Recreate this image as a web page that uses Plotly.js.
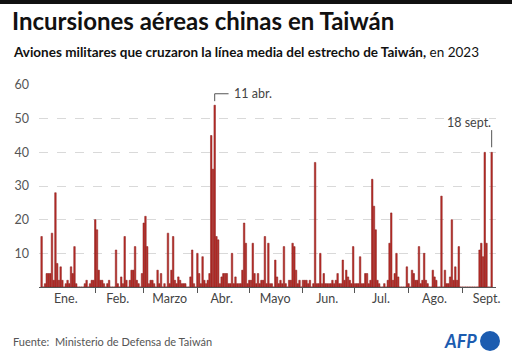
<!DOCTYPE html>
<html>
<head>
<meta charset="utf-8">
<script src="https://cdn.plot.ly/plotly-3.0.1.min.js"></script>
<style>html,body{margin:0;padding:0;background:#fff;}#chart{width:512px;height:355px;}</style>
</head>
<body>
<div id="chart"></div>
<script>
// Daily counts, 1 Jan 2023 .. 18 Sept 2023
const startDate = '2023-01-01';
const dailyCounts = [
 15,0,1,4,4,4,16,2,28,7, 2,6,2,0,1,2,1,6,4,12,
 1,0,0,0,0,1,2,0,1,2, 2,20,17,5,2,2,1,0,1,2,
 0,0,0,11,1,0,3,1,15,2, 0,2,5,5,12,2,1,0,4,19,
 21,12,1,2,2,1,0,5,1,4, 0,1,0,16,1,5,15,2,1,3,
 2,1,1,1,0,0,3,11,1,0, 10,4,1,9,2,1,2,4,45,35,
 54,15,14,1,3,4,4,4,1,1, 10,1,3,1,1,1,5,19,13,1,
 2,2,13,4,1,4,1,2,2,15, 1,13,1,1,0,8,3,1,2,1,
 12,1,0,2,2,13,12,5,1,2, 0,2,2,2,1,2,0,1,37,1,
 1,10,1,4,1,1,1,1,2,1, 2,4,1,1,8,2,5,3,2,1,
 12,1,1,1,9,1,1,4,4,1, 2,32,24,17,2,1,0,0,1,0,
 2,13,22,2,4,10,3,0,0,0, 0,6,1,0,5,4,2,2,12,1,
 2,10,2,1,0,0,5,3,2,0, 0,27,0,5,1,1,3,20,2,6,
 2,12,0,0,0,0,0,0,0,0, 0,0,0,11,13,9,40,13,0,0,
 40
];
const monthLabels = ['Ene.','Feb.','Marzo','Abr.','Mayo','Jun.','Jul.','Ago.','Sept.'];
const monthMids = ['2023-01-15','2023-02-14','2023-03-16','2023-04-15','2023-05-16','2023-06-15','2023-07-16','2023-08-16','2023-09-15'];
const monthStarts = ['2023-02-01','2023-03-01','2023-04-01','2023-05-01','2023-06-01','2023-07-01','2023-08-01','2023-09-01'];
const yTicks = [10,20,30,40,50,60];
const peakLabel = {date:'2023-04-11', text:'11 abr.'};
const lastLabel = {date:'2023-09-18', text:'18 sept.'};

const dates = dailyCounts.map((_, i) => {
  const d = new Date(startDate + 'T00:00:00Z');
  d.setUTCDate(d.getUTCDate() + i);
  return d.toISOString().slice(0,10);
});

const peakVal = dailyCounts[dates.indexOf(peakLabel.date)];
const lastVal = dailyCounts[dates.indexOf(lastLabel.date)];

const plotL = 39, plotR = 16, plotT = 85, plotB = 68;
const W = 512, H = 355;
const pw = W - plotL - plotR, ph = H - plotT - plotB;
const px = x => (x - plotL) / pw;
const py = y => (H - plotB - y) / ph;

const FONT = 'Lato, "Noto Sans", sans-serif';

const trace = {
  type: 'bar',
  x: dates,
  y: dailyCounts,
  marker: {color: '#bb2f2a', line: {color: '#861b19', width: 0.5}},
  hoverinfo: 'x+y'
};

const layout = {
  width: W, height: H,
  margin: {l: plotL, r: plotR, t: plotT, b: plotB, pad: 0},
  paper_bgcolor: '#fff', plot_bgcolor: '#fff',
  showlegend: false,
  bargap: 0.12,
  font: {family: FONT, color: '#444'},
  xaxis: {
    type: 'date',
    range: ['2022-12-30 12:00', '2023-09-20 12:00'],
    tickmode: 'array',
    tickvals: monthMids,
    ticktext: monthLabels,
    ticks: '',
    showgrid: false,
    showline: true, linecolor: '#555', linewidth: 1,
    tickfont: {size: 12.5, color: '#444', family: FONT},
    minor: {tickmode: 'array', tickvals: monthStarts, ticks: 'outside', ticklen: 5, tickcolor: '#555', tickwidth: 1, showgrid: false},
    zeroline: false, fixedrange: true
  },
  yaxis: {
    range: [0, 60],
    tickmode: 'array', tickvals: yTicks,
    ticks: '', showline: false,
    showgrid: true, gridcolor: '#d9d9d9', griddash: 'dash', gridwidth: 1,
    zeroline: false,
    tickfont: {size: 12.5, color: '#555', family: FONT},
    ticklabelstandoff: 9,
    fixedrange: true
  },
  shapes: [
    {type: 'rect', xref: 'paper', yref: 'paper', x0: px(0), x1: px(W), y0: py(4), y1: py(0), fillcolor: '#111', line: {width: 0}},
    {type: 'path', xref: 'x', yref: 'y', path: 'M ' + peakLabel.date + ',' + (peakVal + 1.2) + ' L ' + peakLabel.date + ',57.4 L 2023-04-19,57.4', line: {color: '#555', width: 1}},
    {type: 'line', xref: 'x', yref: 'y', x0: lastLabel.date, x1: lastLabel.date, y0: lastVal + 1.5, y1: 46.6, line: {color: '#555', width: 1}},
    {type: 'circle', xref: 'paper', yref: 'paper', x0: px(480), x1: px(500), y0: py(351), y1: py(331), fillcolor: '#1c5cb0', line: {width: 0}}
  ],
  annotations: [
    {xref: 'paper', yref: 'paper', x: px(10), y: py(21), xanchor: 'left', yanchor: 'middle', showarrow: false,
     text: '<b>Incursiones aéreas chinas en Taiwán</b>', font: {size: 24, color: '#111', family: FONT}},
    {xref: 'paper', yref: 'paper', x: px(11), y: py(52), xanchor: 'left', yanchor: 'middle', showarrow: false,
     text: '<b>Aviones militares que cruzaron la línea media del estrecho de Taiwán,</b> en 2023', font: {size: 13.5, color: '#111', family: FONT}},
    {xref: 'x', yref: 'y', x: '2023-04-21', y: 57.4, xanchor: 'left', yanchor: 'middle', showarrow: false,
     text: peakLabel.text, font: {size: 12.5, color: '#444', family: FONT}},
    {xref: 'x', yref: 'y', x: lastLabel.date, y: 49, xanchor: 'right', yanchor: 'middle', showarrow: false, xshift: 1,
     text: lastLabel.text, font: {size: 12.5, color: '#444', family: FONT}},
    {xref: 'paper', yref: 'paper', x: px(11), y: py(341), xanchor: 'left', yanchor: 'middle', showarrow: false,
     text: 'Fuente:  Ministerio de Defensa de Taiwán', font: {size: 11, color: '#555', family: FONT}},
    {xref: 'paper', yref: 'paper', x: px(479), y: py(341), xanchor: 'right', yanchor: 'middle', showarrow: false,
     text: '<b><i>AFP</i></b>', font: {size: 18, color: '#1c5cb0', family: FONT}}
  ]
};

Plotly.newPlot('chart', [trace], layout, {displayModeBar: false, staticPlot: true});
</script>
</body>
</html>
